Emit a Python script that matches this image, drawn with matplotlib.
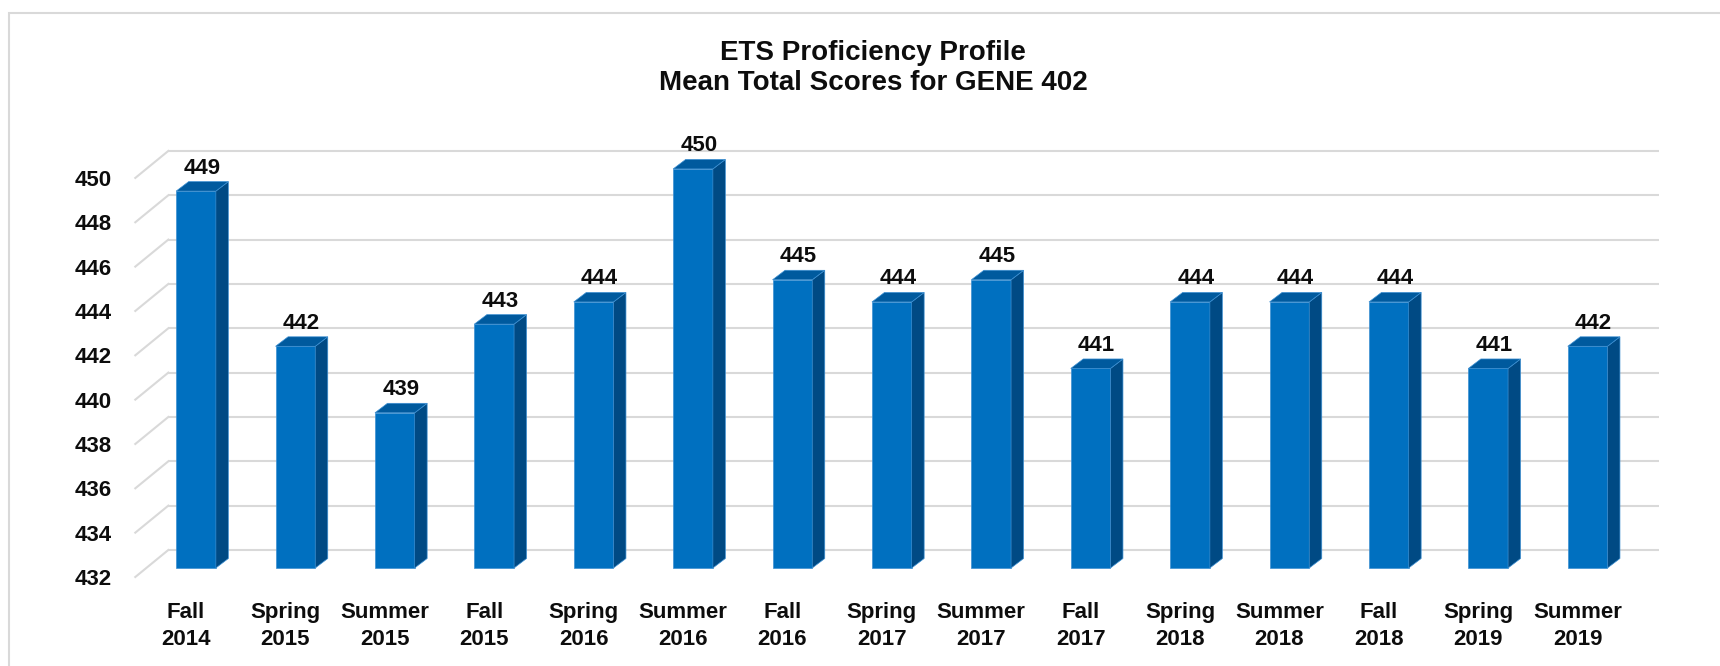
import matplotlib
matplotlib.use("Agg")
import matplotlib.pyplot as plt
from matplotlib.patches import Polygon, Rectangle
import numpy as np

plt.rcParams['font.family'] = ['Liberation Sans', 'DejaVu Sans']
plt.rcParams['font.weight'] = 'bold'

# ---------------- data ----------------
categories = ["Fall\n2014", "Spring\n2015", "Summer\n2015", "Fall\n2015", "Spring\n2016",
              "Summer\n2016", "Fall\n2016", "Spring\n2017", "Summer\n2017", "Fall\n2017",
              "Spring\n2018", "Summer\n2018", "Fall\n2018", "Spring\n2019", "Summer\n2019"]
scores = [449, 442, 439, 443, 444, 450, 445, 444, 445, 441, 444, 444, 444, 441, 442]
y_ticks = [432, 434, 436, 438, 440, 442, 444, 446, 448, 450]
title = "ETS Proficiency Profile\nMean Total Scores for GENE 402"

# ---------------- layout (pixels) ----------------
W, H = 1720, 666
X0, SX = 196.0, 99.4      # pixel x of first category centre, px per category
Y0, SY = 568.0, 22.17     # pixel y (from top) of baseline value, px per unit
base = y_ticks[0]

fig = plt.figure(figsize=(W / 100, H / 100), dpi=100)
xlim = (-1.0, 15.0)
ylim = (429.0, 452.0)
px_l = X0 + SX * xlim[0]
px_r = X0 + SX * xlim[1]
py_b = Y0 - SY * (ylim[0] - base)
py_t = Y0 - SY * (ylim[1] - base)
ax = fig.add_axes([px_l / W, 1 - py_b / H, (px_r - px_l) / W, (py_b - py_t) / H])
ax.set_xlim(*xlim)
ax.set_ylim(*ylim)
ax.axis('off')

# 3-D geometry converted into data units
bar_w = 39.7 / SX
bdx, bdy = 12.5 / SX, 9.5 / SY          # bar depth
wdx, wdy = 22.0 / SX, 18.0 / SY         # bar plane -> back wall
fdx, fdy = -11.0 / SX, -9.0 / SY        # bar plane -> floor front edge
wall_l = -0.5
wall_r = len(scores) - 0.5

txt_c = '#0D0D0D'
fw = 'bold'
fs = 16
grid_c = '#D9D9D9'
for v in y_ticks:
    ax.plot([wall_l + wdx, wall_r + wdx], [v + wdy, v + wdy], color=grid_c, lw=1.5, zorder=1,
            solid_capstyle='butt')
    ax.plot([wall_l + fdx, wall_l + wdx], [v + fdy, v + wdy], color=grid_c, lw=1.5, zorder=1)
    ax.text(-0.845, v + fdy, str(v), ha='right', va='center_baseline', fontsize=fs, color=txt_c,
            fontweight=fw)

front_c = '#0070C0'
top_c = '#005A9E'
side_c = '#004A84'
edge_c = '#3C8FD2'
x = np.arange(len(scores))
vals = np.array(scores, dtype=float)
ax.bar(x, vals - base, bottom=base, width=bar_w, color=front_c, edgecolor=edge_c, linewidth=0.5,
       zorder=3)
for xi, v in zip(x, vals):
    l, r = xi - bar_w / 2, xi + bar_w / 2
    top = Polygon([(l, v), (r, v), (r + bdx, v + bdy), (l + bdx, v + bdy)], closed=True,
                  facecolor=top_c, edgecolor=edge_c, linewidth=0.5, zorder=3)
    side = Polygon([(r, base), (r + bdx, base + bdy), (r + bdx, v + bdy), (r, v)], closed=True,
                   facecolor=side_c, edgecolor=edge_c, linewidth=0.5, zorder=3)
    ax.add_patch(side)
    ax.add_patch(top)
    ax.annotate(f"{int(v)}", xy=(xi + 0.06, v + bdy), xytext=(0, 8), textcoords='offset pixels',
                ha='center', va='baseline', fontsize=fs, color=txt_c, fontweight=fw, zorder=4)

for xi, lab in zip(x, categories):
    ax.text(xi - 10.0 / SX, base - (645 - Y0) / SY, lab, ha='center', va='baseline',
            fontsize=fs, color=txt_c, fontweight=fw, linespacing=1.4)

fig.text(873 / W, 1 - 90 / H, title, ha='center', va='baseline', fontsize=20, color=txt_c,
         fontweight=fw, linespacing=1.2)

fig.patches.append(Rectangle((9 / W, -0.2), 1.5, 1 - 13 / H + 0.2, transform=fig.transFigure,
                             fill=False, edgecolor='#D9D9D9', lw=1.5, figure=fig))

fig.savefig("out.png", dpi=100, facecolor='white')
